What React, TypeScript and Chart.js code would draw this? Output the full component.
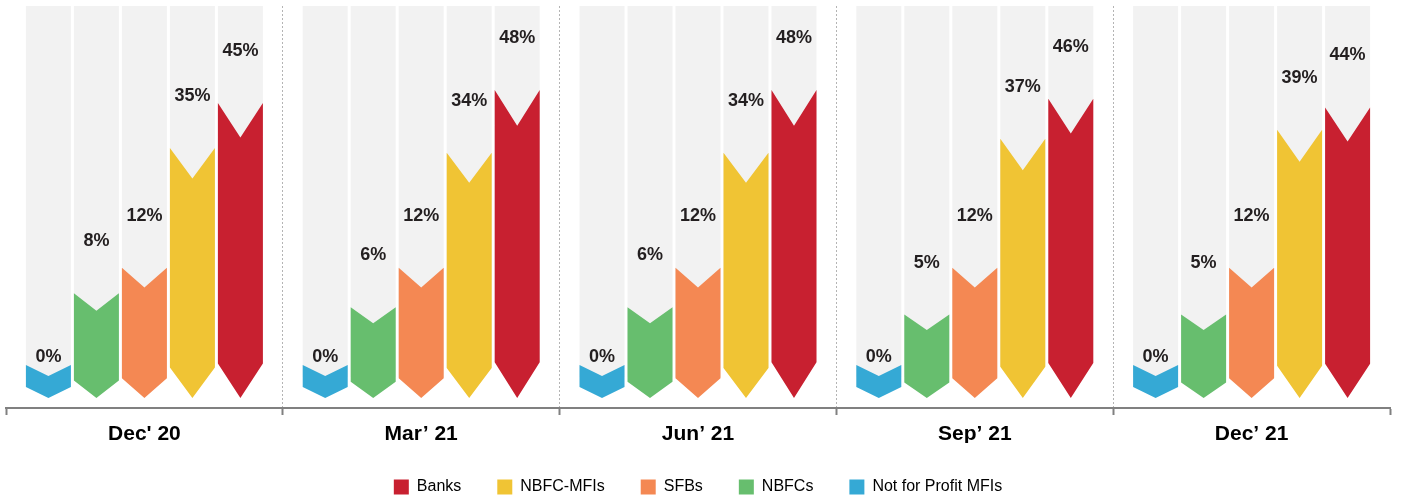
import React, { useEffect, useRef } from 'react';
import { Chart, registerables, LinearScale } from 'chart.js';

// ---- data ----
const categories = ["Dec' 20", 'Mar’ 21', 'Jun’ 21', 'Sep’ 21', 'Dec’ 21'];
const notForProfitMfis = [0, 0, 0, 0, 0];
const nbfcs = [8, 6, 6, 5, 5];
const sfbs = [12, 12, 12, 12, 12];
const nbfcMfis = [35, 34, 34, 37, 39];
const banks = [45, 48, 48, 46, 44];

const seriesLabels = ['Not for Profit MFIs', 'NBFCs', 'SFBs', 'NBFC-MFIs', 'Banks'];
const seriesColors = ['#35A9D5', '#67BE6E', '#F48853', '#F0C434', '#C82030'];

// ---- styling constants ----
const FONT = "'Liberation Sans', Arial, sans-serif";
const GRAY = '#F2F2F2';
const POW = 0.75; // value axis is a power scale (taller short bars, like the source pictogram)
const BASE_GAP = 43; // distance between the zero line and the axis line
const TIP = 33; // depth of the arrow point below the zero line

class PowerScale extends LinearScale {
  static id = 'power';
  static defaults = {};
  getPixelForValue(value: number) {
    const v = Math.max(0, Number(value) || 0);
    const t = Math.pow(v, POW) / Math.pow(this.max, POW);
    const base = this.bottom - BASE_GAP;
    return base - t * (base - this.top);
  }
  getValueForPixel(pixel: number) {
    const base = this.bottom - BASE_GAP;
    const t = (base - pixel) / (base - this.top);
    return Math.pow(Math.max(0, t), 1 / POW) * this.max;
  }
}

Chart.register(...registerables, PowerScale);

const notchDepth = (yTop: number, tipY: number) => 8 + 0.09 * (tipY - yTop);

const chevronPlugin = {
  id: 'chevrons',
  beforeDatasetsDraw(chart: any) {
    const ctx = chart.ctx;
    const top = chart.chartArea.top;
    ctx.save();
    ctx.fillStyle = GRAY;
    chart.data.datasets.forEach((_ds: any, i: number) => {
      if (!chart.isDatasetVisible(i)) return;
      chart.getDatasetMeta(i).data.forEach((el: any) => {
        const tipY = el.base + TIP;
        const d = notchDepth(el.y, tipY);
        const bottom = Math.min(el.base + 12, tipY - d);
        ctx.fillRect(el.x - el.width / 2, top, el.width, bottom - top);
      });
    });
    ctx.restore();
  },
  beforeDatasetDraw(chart: any, args: any) {
    const ctx = chart.ctx;
    const ds = chart.data.datasets[args.index];
    ctx.save();
    ctx.fillStyle = ds.backgroundColor;
    args.meta.data.forEach((el: any) => {
      const l = el.x - el.width / 2;
      const r = el.x + el.width / 2;
      const yTop = el.y;
      const tipY = el.base + TIP;
      const d = notchDepth(yTop, tipY);
      ctx.beginPath();
      ctx.moveTo(l, yTop);
      ctx.lineTo(el.x, yTop + d);
      ctx.lineTo(r, yTop);
      ctx.lineTo(r, tipY - d);
      ctx.lineTo(el.x, tipY);
      ctx.lineTo(l, tipY - d);
      ctx.closePath();
      ctx.fill();
    });
    ctx.restore();
    return false;
  },
  afterDatasetsDraw(chart: any) {
    const ctx = chart.ctx;
    ctx.save();
    ctx.font = `bold 18px ${FONT}`;
    ctx.fillStyle = '#231F20';
    ctx.textAlign = 'center';
    ctx.textBaseline = 'middle';
    chart.data.datasets.forEach((ds: any, i: number) => {
      if (!chart.isDatasetVisible(i)) return;
      chart.getDatasetMeta(i).data.forEach((el: any, j: number) => {
        const v = ds.data[j];
        const y = v > 0 ? el.y - 52 : el.y - 8;
        ctx.fillText(`${v}%`, el.x, y);
      });
    });
    ctx.restore();
  },
};

export default function App() {
  const canvasRef = useRef<HTMLCanvasElement>(null);

  useEffect(() => {
    if (!canvasRef.current) return;
    const seriesValues = [notForProfitMfis, nbfcs, sfbs, nbfcMfis, banks];
    const chart = new Chart(canvasRef.current, {
      type: 'bar',
      data: {
        labels: categories,
        datasets: seriesValues.map((vals, i) => ({
          label: seriesLabels[i],
          data: vals,
          backgroundColor: seriesColors[i],
          borderWidth: 0,
          categoryPercentage: 0.867,
          barPercentage: 0.9375,
        })),
      },
      options: {
        responsive: true,
        maintainAspectRatio: false,
        animation: false,
        layout: { padding: { top: 6, left: 6, right: 11, bottom: -2 } },
        plugins: {
          tooltip: { enabled: false },
          legend: {
            position: 'bottom',
            reverse: true,
            labels: {
              boxWidth: 15,
              boxHeight: 15,
              padding: 36,
              color: '#000',
              font: { family: FONT, size: 16 },
            },
          },
        },
        scales: {
          x: {
            grid: {
              offset: true,
              color: (c: any) => (c.index > 0 ? '#B4B4B4' : 'rgba(0,0,0,0)'),
              lineWidth: 1,
              drawTicks: true,
              tickLength: 7,
              tickColor: '#808080',
              tickWidth: 2,
            },
            border: { display: true, color: '#808080', width: 2, dash: [2, 2] },
            ticks: {
              color: '#000',
              padding: 7,
              font: { family: FONT, size: 21, weight: 'bold' },
            },
            afterFit: (scale: any) => {
              scale.height = 35;
            },
          },
          y: {
            type: 'power',
            min: 0,
            max: 68.5,
            display: false,
          },
        },
      },
      plugins: [chevronPlugin],
    } as any);
    return () => chart.destroy();
  }, []);

  return (
    <div style={{ position: 'fixed', left: 0, top: 0, width: '1401px', height: '503px', background: '#fff' }}>
      <canvas ref={canvasRef} />
    </div>
  );
}
